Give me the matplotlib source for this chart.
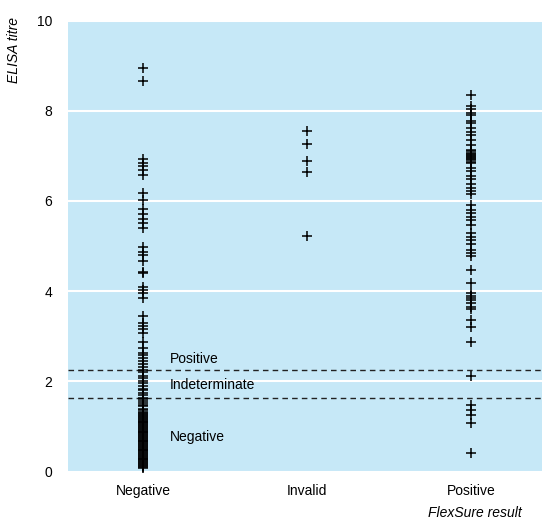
import matplotlib
matplotlib.use("Agg")
import matplotlib.pyplot as plt

categories = ["Negative", "Invalid", "Positive"]

negative_vals = [8.95, 8.65, 6.92, 6.85, 6.77, 6.68, 6.58, 6.17, 6.03, 5.82, 5.72,
                 5.6, 5.52, 5.4, 4.99, 4.88, 4.8, 4.68, 4.43, 4.41, 4.1, 4.03, 3.97,
                 3.85, 3.45, 3.3, 3.22, 3.16, 3.08, 2.88, 2.75, 2.62, 2.58, 2.52,
                 2.45, 2.38, 2.33, 2.26, 2.2, 2.13, 2.08, 2.02, 1.96, 1.9, 1.84,
                 1.8, 1.75, 1.7, 1.64, 1.6, 1.56, 1.52, 1.48, 1.45, 1.4, 1.36, 1.32,
                 1.29, 1.27, 1.25, 1.23, 1.21, 1.19, 1.17, 1.15, 1.13, 1.11, 1.09,
                 1.07, 1.05, 1.03, 1.01, 0.99, 0.97, 0.95, 0.93, 0.91, 0.89, 0.87,
                 0.85, 0.83, 0.81, 0.79, 0.77, 0.75, 0.73, 0.71, 0.69, 0.67, 0.65,
                 0.63, 0.61, 0.59, 0.57, 0.55, 0.53, 0.51, 0.49, 0.47, 0.45, 0.43,
                 0.41, 0.39, 0.37, 0.35, 0.33, 0.31, 0.29, 0.27, 0.25, 0.23, 0.21,
                 0.19, 0.17, 0.15, 0.13, 0.11, 0.09]
invalid_vals = [7.55, 7.26, 6.89, 6.64, 5.22]
positive_vals = [8.35, 8.11, 8.04, 7.96, 7.91, 7.78, 7.72, 7.61, 7.53, 7.46, 7.35,
                 7.24, 7.13, 7.1, 7.07, 7.04, 7.02, 7.0, 6.98, 6.96, 6.93, 6.9,
                 6.87, 6.84, 6.73, 6.66, 6.55, 6.48, 6.37, 6.29, 6.22, 6.15, 5.91,
                 5.8, 5.73, 5.65, 5.58, 5.47, 5.29, 5.21, 5.14, 5.05, 4.92, 4.85,
                 4.79, 4.47, 4.19, 3.96, 3.9, 3.85, 3.8, 3.74, 3.66, 3.6, 3.36,
                 3.21, 2.88, 2.12, 1.48, 1.37, 1.26, 1.07, 0.42]

cutoff_positive = 2.26
cutoff_negative = 1.63
yticks = [0, 2, 4, 6, 8, 10]

plt.rcParams['font.family'] = ['Liberation Sans', 'DejaVu Sans']

fig = plt.figure(figsize=(5.42, 5.27), dpi=100)
ax = fig.add_axes([0.125, 0.105, 0.875, 0.856])
ax.set_facecolor('#c6e8f7')

for i, vals in enumerate([negative_vals, invalid_vals, positive_vals]):
    ax.plot([i] * len(vals), vals, linestyle='none', marker='+',
            markersize=7, markeredgewidth=1.1, color='black', zorder=3)

ax.axhline(cutoff_positive, color='#222222', linestyle=(0, (4, 3)), linewidth=1, zorder=2)
ax.axhline(cutoff_negative, color='#222222', linestyle=(0, (4, 3)), linewidth=1, zorder=2)

ax.text(0.16, 2.5, "Positive", fontsize=10, va='center', ha='left', zorder=4)
ax.text(0.16, 1.93, "Indeterminate", fontsize=10, va='center', ha='left', zorder=4)
ax.text(0.16, 0.77, "Negative", fontsize=10, va='center', ha='left', zorder=4)

ax.set_xlim(-0.46, 2.43)
ax.set_ylim(0, 10)
ax.set_yticks(yticks)
ax.set_yticklabels([str(v) for v in yticks])
ax.set_xticks(range(len(categories)))
ax.set_xticklabels(categories)
ax.grid(axis='y', color='white', linewidth=1.5, zorder=1)
ax.set_axisbelow(True)
ax.tick_params(axis='both', length=0, labelsize=10)
ax.tick_params(axis='y', pad=11)
ax.tick_params(axis='x', pad=9)
for s in ax.spines.values():
    s.set_visible(False)

fig.text(0.026, 0.905, "ELISA titre", rotation=90, style='italic',
         fontsize=10, ha='center', va='center')
fig.text(0.962, 0.026, "FlexSure result", style='italic',
         fontsize=10, ha='right', va='center')

fig.savefig("out.png", dpi=100)
